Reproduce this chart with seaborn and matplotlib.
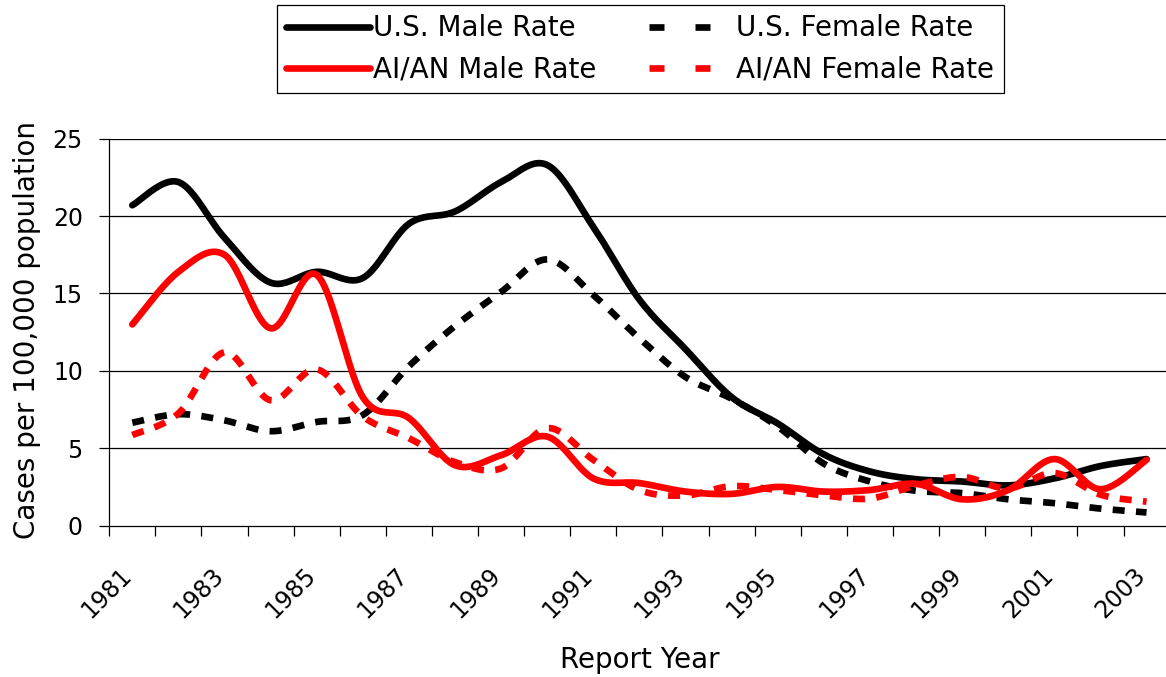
import numpy as np
import matplotlib
matplotlib.use("Agg")
import matplotlib.pyplot as plt
import matplotlib.transforms as mtransforms
from matplotlib.lines import Line2D
import seaborn as sns

# Annual case rates per 100,000 population, 1981-2003
years = list(range(1981, 2004))
us_male = [20.7, 22.2, 18.6, 15.7, 16.4, 16.0, 19.5, 20.3, 22.2, 23.3, 19.3, 14.6,
           11.4, 8.3, 6.6, 4.6, 3.5, 3.0, 2.85, 2.6, 3.05, 3.85, 4.3]
us_female = [6.65, 7.2, 6.8, 6.1, 6.7, 7.15, 10.3, 12.9, 15.1, 17.2, 14.9, 12.1,
             9.6, 8.2, 6.4, 4.0, 2.85, 2.25, 2.1, 1.7, 1.45, 1.1, 0.85]
aian_male = [13.0, 16.4, 17.5, 12.75, 16.2, 8.3, 6.95, 3.9, 4.55, 5.75, 3.05, 2.75,
             2.2, 2.05, 2.5, 2.2, 2.3, 2.7, 1.7, 2.3, 4.3, 2.35, 4.25]
aian_female = [5.85, 7.25, 11.2, 8.1, 10.1, 7.05, 5.65, 4.1, 3.7, 6.3, 4.25, 2.3,
               1.95, 2.55, 2.3, 1.95, 1.75, 2.6, 3.15, 2.4, 3.4, 2.0, 1.55]

series_labels = ["U.S. Male Rate", "AI/AN Male Rate", "U.S. Female Rate", "AI/AN Female Rate"]
y_ticks = [0, 5, 10, 15, 20, 25]


def smooth_curve(values, steps=24):
    """Smoothed line through the points using cubic Bezier segments
    (control points from neighbouring points, as in spreadsheet smoothing)."""
    p = np.column_stack([np.arange(len(values), dtype=float), np.asarray(values, float)])
    n = len(p)
    t = np.linspace(0, 1, steps, endpoint=False)[:, None]
    out = []
    for i in range(n - 1):
        prev = p[max(i - 1, 0)]
        nxt = p[min(i + 2, n - 1)]
        c1 = p[i] + (p[i + 1] - prev) / 6.0
        c2 = p[i + 1] - (nxt - p[i]) / 6.0
        seg = ((1 - t) ** 3) * p[i] + 3 * ((1 - t) ** 2) * t * c1 \
            + 3 * (1 - t) * t ** 2 * c2 + t ** 3 * p[i + 1]
        out.append(seg)
    out.append(p[-1:])
    pts = np.vstack(out)
    return pts[:, 0], pts[:, 1]


sns.set_theme(style="white")
plt.rcParams["font.family"] = ["DejaVu Sans"]
plt.rcParams.update({
    "text.color": "black",
    "axes.labelcolor": "black",
    "xtick.color": "black",
    "ytick.color": "black",
})

fig = plt.figure(figsize=(11.66, 6.77), dpi=100)
ax = fig.add_axes([0.0937, 0.2236, 0.9094, 0.5715])

LW = 4.8
dash = (0, (1.8, 1.7))
styles = [
    (us_male, "black", "-"),
    (us_female, "black", dash),
    (aian_male, "red", "-"),
    (aian_female, "red", dash),
]
for vals, col, ls in styles:
    xs, ys = smooth_curve(vals)
    sns.lineplot(x=xs, y=ys, ax=ax, color=col, linewidth=LW, sort=False,
                 estimator=None, legend=False)
    line = ax.lines[-1]
    line.set_linestyle(ls)
    line.set_solid_capstyle("round")
    line.set_dash_capstyle("butt")

ax.set_xlim(-0.5, len(years) - 0.5)
ax.set_ylim(0, 25)

# y axis: ticks, labels and horizontal grid
ax.set_yticks(y_ticks)
ax.set_yticklabels([str(v) for v in y_ticks])
ax.grid(False)
for v in y_ticks[1:]:
    ax.axhline(v, color="black", linewidth=0.9, zorder=0.5)
ax.tick_params(axis="y", which="major", direction="out", length=7, width=0.9,
               color="black", pad=12, labelsize=17, left=True)

# x axis: tick marks between categories, year labels (every other year) set
# diagonally below the category centres
ax.set_xticks(np.arange(-0.5, len(years), 1.0))
ax.set_xticklabels([])
ax.tick_params(axis="x", which="major", direction="out", length=7, width=0.9,
               color="black", bottom=True)
label_tf = ax.get_xaxis_transform() + mtransforms.ScaledTranslation(
    -13 / 100, -37.4 / 100, fig.dpi_scale_trans)
for i in range(0, len(years), 2):
    ax.text(i, 0, str(years[i]), transform=label_tf, rotation=45,
            rotation_mode="anchor", ha="right", va="top", fontsize=17,
            color="black", clip_on=False)

for side in ["top", "right"]:
    ax.spines[side].set_visible(False)
for side in ["left", "bottom"]:
    ax.spines[side].set_color("black")
    ax.spines[side].set_linewidth(0.9)

ax.set_ylabel("Cases per 100,000 population", fontsize=20)
ax.yaxis.label.set_va("center")
ax.yaxis.set_label_coords(-0.0776, 0.506)
ax.set_xlabel("Report Year", fontsize=20)
ax.xaxis.label.set_va("center")
ax.xaxis.set_label_coords(0.5005, -0.347)

# legend above the plot
px = LW * 100 / 72.0
leg_dash = (0, (15 / px, 31 / px))
handles = [
    Line2D([], [], color="black", lw=LW, solid_capstyle="round"),
    Line2D([], [], color="red", lw=LW, solid_capstyle="round"),
    Line2D([], [], color="black", lw=LW, linestyle=leg_dash),
    Line2D([], [], color="red", lw=LW, linestyle=leg_dash),
]
leg = fig.legend(handles, series_labels, ncol=2, loc="upper center",
                 bbox_to_anchor=(0.549, 0.993), fontsize=20, frameon=True,
                 fancybox=False, shadow=False, framealpha=1, edgecolor="black",
                 handlelength=3.0, handletextpad=0.12, columnspacing=1.9,
                 labelspacing=0.46, borderpad=0.35, borderaxespad=0)
leg.get_frame().set_linewidth(0.9)

fig.savefig("out.png", dpi=100, facecolor="white")
